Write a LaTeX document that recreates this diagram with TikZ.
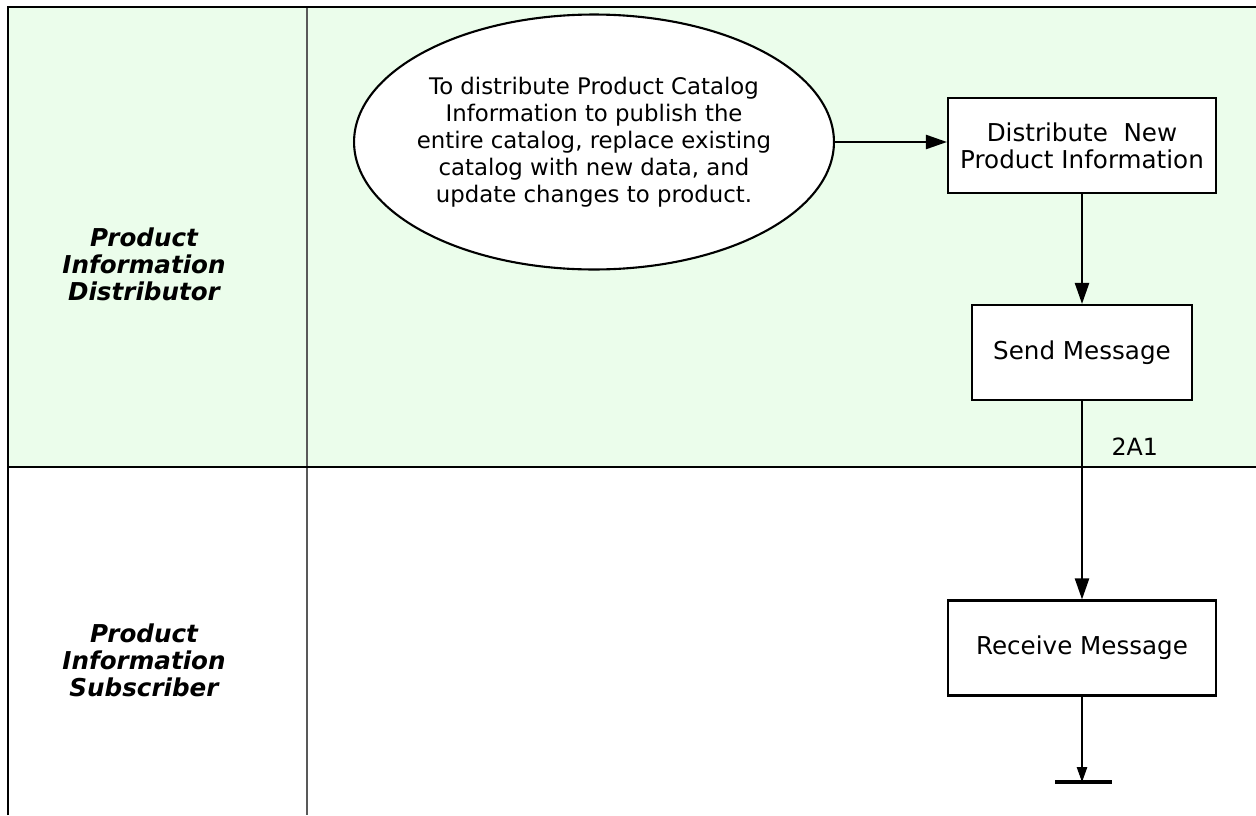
\documentclass[tikz,border=0pt]{standalone}
\usepackage{fontspec}
\setmainfont{DejaVu Sans}
\usetikzlibrary{positioning}
\usetikzlibrary{arrows.meta}
\usetikzlibrary{shapes.geometric}

\definecolor{lanegreen}{RGB}{235,253,235}

\begin{document}
\begin{tikzpicture}[
    x=0.02cm, y=-0.02cm,
    step box/.style={
        rectangle,
        draw,
        fill=white,
        line width=1.2pt,
        minimum width=5.36cm,
        minimum height=1.9cm,
        align=center,
        font=\fontsize{14}{15.3}\selectfont,
        },
    goal/.style={
        ellipse,
        draw,
        fill=white,
        line width=1.2pt,
        minimum width=9.6cm,
        minimum height=5.1cm,
        align=center,
        inner xsep=-0.18cm,
        inner ysep=0pt,
        font=\fontsize{13}{15.3}\selectfont,
        },
    lanelabel/.style={
        align=center,
        font=\fontsize{14}{15.3}\selectfont\bfseries\itshape,
        },
    flowlabel/.style={
        font=\fontsize{13.5}{15.3}\selectfont,
        },
    Flow/.style={
        line width=1.3pt,
        -{Triangle[length=0.42cm, width=0.28cm]},
        },
    ThinFlow/.style={
        line width=0.6pt,
        -{Triangle[length=0.3cm, width=0.21cm]},
        },
    ]

    \useasboundingbox (0,0) rectangle (1256,815);

    % lanes
    \fill [lanegreen] (8,7) rectangle (1256,467);
    \draw [gray!70!black, line width=0.6pt] (307,7) -- (307,815);
    \draw [line width=1.2pt] (8,815) -- (8,7) -- (1256,7);
    \draw [line width=1.2pt] (8,467) -- (1256,467);

    \node [lanelabel] (lane1) at (144,264) {Product\\Information\\Distributor};
    \node [lanelabel] (lane2) at (144,660) {Product\\Information\\Subscriber};

    % steps
    \node [goal] (purpose) at (594,142) {To distribute Product Catalog\\Information to publish the\\entire catalog, replace existing\\catalog with new data, and\\update changes to product.};
    \node [step box] (distribute) at (1082,145.5) {Distribute\ \ New\\Product Information};
    \node [step box, minimum width=4.4cm] (send) at (1082,352.5) {Send Message};
    \node [step box] (receive) at (1082,648) {Receive Message};
    \coordinate (stop) at (1082,782);

    \draw [Flow] (purpose.east) -- (purpose.east -| distribute.west);
    \draw [Flow] (distribute) -- (send);
    \draw [Flow] (send) -- (receive) node [flowlabel, pos=0.23, right=0.45cm] (msg) {2A1};
    \draw [ThinFlow] (receive) -- (stop);
    \draw [line width=2pt] ([xshift=-0.54cm]stop) -- ([xshift=0.6cm]stop);

\end{tikzpicture}
\end{document}
